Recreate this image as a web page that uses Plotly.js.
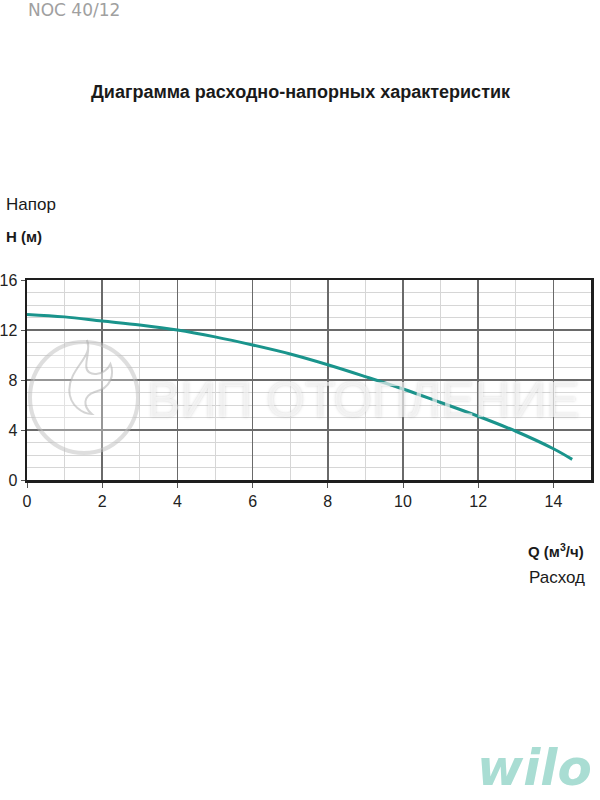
<!DOCTYPE html>
<html>
<head>
<meta charset="utf-8">
<script src="https://cdn.plot.ly/plotly-3.0.1.min.js"></script>
<style>html,body{margin:0;padding:0;background:#fff;}#chart{width:600px;height:800px;}</style>
</head>
<body>
<div id="chart"></div>
<script>
// Data
const flowQ = [0, 1, 2, 3, 4, 5, 6, 7, 8, 9, 10, 11, 12, 13, 14, 14.5];
const headH = [13.25, 13.05, 12.72, 12.4, 12.0, 11.45, 10.8, 10.08, 9.22, 8.27, 7.28, 6.2, 5.1, 3.9, 2.5, 1.65];
const xTicks = [0, 2, 4, 6, 8, 10, 12, 14];
const yTicks = [0, 4, 8, 12, 16];

const fontFam = 'Liberation Sans, Arial, sans-serif';

const trace = {
  x: flowQ, y: headH, type: 'scatter', mode: 'lines',
  line: {color: '#1a948c', width: 3, shape: 'spline', smoothing: 1},
  hoverinfo: 'x+y', showlegend: false
};

const layout = {
  width: 600, height: 800,
  margin: {l: 27, r: 9, t: 280, b: 320},
  paper_bgcolor: '#fff', plot_bgcolor: '#fff',
  font: {family: fontFam, color: '#222', size: 15},
  xaxis: {
    range: [0, 15], tickvals: xTicks, ticktext: xTicks.map(String),
    showgrid: true, gridcolor: '#6a6a6a', gridwidth: 1.5,
    minor: {dtick: 1, tick0: 0, showgrid: true, gridcolor: '#d6d6d6', gridwidth: 1},
    showline: true, mirror: true, linecolor: '#1e1e1e', linewidth: 2.5,
    ticks: 'outside', ticklen: 5, tickcolor: '#555', tickwidth: 1,
    tickfont: {size: 16, color: '#222', family: fontFam},
    zeroline: false, fixedrange: true
  },
  yaxis: {
    range: [0, 16], tickvals: yTicks, ticktext: yTicks.map(String),
    showgrid: true, gridcolor: '#6a6a6a', gridwidth: 1.5,
    minor: {dtick: 1, tick0: 0, showgrid: true, gridcolor: '#d6d6d6', gridwidth: 1},
    showline: true, mirror: true, linecolor: '#1e1e1e', linewidth: 2.5,
    ticks: 'outside', ticklen: 4, tickcolor: '#555', tickwidth: 1,
    tickfont: {size: 16, color: '#222', family: fontFam},
    zeroline: false, fixedrange: true
  },
  shapes: [
    {type: 'circle', xref: 'paper', yref: 'paper', layer: 'above',
     x0: (30-27)/564, x1: (138-27)/564, y0: (480-453)/200, y1: (480-342)/200,
     line: {color: 'rgba(190,190,190,0.5)', width: 4}, fillcolor: 'rgba(255,255,255,0.3)'},
    {type: 'path', xref: 'paper', yref: 'paper', layer: 'above',
     path: 'M 0.1060,0.70 C 0.1200,0.62 0.0750,0.56 0.0750,0.45 C 0.0750,0.37 0.1000,0.33 0.1150,0.33 C 0.0980,0.37 0.1000,0.42 0.1200,0.44 C 0.1500,0.46 0.1550,0.53 0.1480,0.58 C 0.1380,0.52 0.1050,0.51 0.1050,0.57 C 0.1050,0.62 0.1130,0.66 0.1060,0.70 Z',
     line: {color: 'rgba(170,170,170,0.5)', width: 2}, fillcolor: 'rgba(255,255,255,0.4)'}
  ],
  annotations: [
    {text: 'NOC 40/12', xref: 'paper', yref: 'paper', x: (26-27)/564, y: (480-10)/200,
     xanchor: 'left', yanchor: 'middle', showarrow: false,
     font: {family: 'DejaVu Sans, sans-serif', size: 17, color: '#a0a0a0'}},
    {text: '<b>Диаграмма расходно-напорных характеристик</b>', xref: 'paper', yref: 'paper',
     x: (301-27)/564, y: (480-92)/200, xanchor: 'center', yanchor: 'middle', showarrow: false,
     font: {family: fontFam, size: 18, color: '#1a1a1a'}},
    {text: 'Напор', xref: 'paper', yref: 'paper', x: (4-27)/564, y: (480-204)/200,
     xanchor: 'left', yanchor: 'middle', showarrow: false,
     font: {family: fontFam, size: 17, color: '#1a1a1a'}},
    {text: '<b>H (м)</b>', xref: 'paper', yref: 'paper', x: (4-27)/564, y: (480-236)/200,
     xanchor: 'left', yanchor: 'middle', showarrow: false,
     font: {family: fontFam, size: 15, color: '#1a1a1a'}},
    {text: '<b>Q (м<sup>3</sup>/ч)</b>', xref: 'paper', yref: 'paper', x: (586-27)/564, y: (480-550)/200,
     xanchor: 'right', yanchor: 'middle', showarrow: false,
     font: {family: fontFam, size: 15, color: '#1a1a1a'}},
    {text: 'Расход', xref: 'paper', yref: 'paper', x: (587-27)/564, y: (480-577)/200,
     xanchor: 'right', yanchor: 'middle', showarrow: false,
     font: {family: fontFam, size: 17, color: '#1a1a1a'}},
    {text: 'ВИП ОТОПЛЕНИЕ', xref: 'paper', yref: 'paper', x: (363-27)/564, y: (480-400)/200,
     xanchor: 'center', yanchor: 'middle', showarrow: false,
     font: {family: fontFam, size: 50, color: 'rgba(255,255,255,0.6)',
            shadow: '0px 0px 3px rgba(140,140,140,0.6)'}},
    {text: '<b><i>wilo</i></b>', xref: 'paper', yref: 'paper', x: (594-27)/564, y: (480-768)/200,
     xanchor: 'right', yanchor: 'middle', showarrow: false,
     font: {family: 'DejaVu Sans, sans-serif', size: 50, color: '#a9ddd3'}}
  ]
};

Plotly.newPlot('chart', [trace], layout, {displayModeBar: false, staticPlot: true});
</script>
</body>
</html>
